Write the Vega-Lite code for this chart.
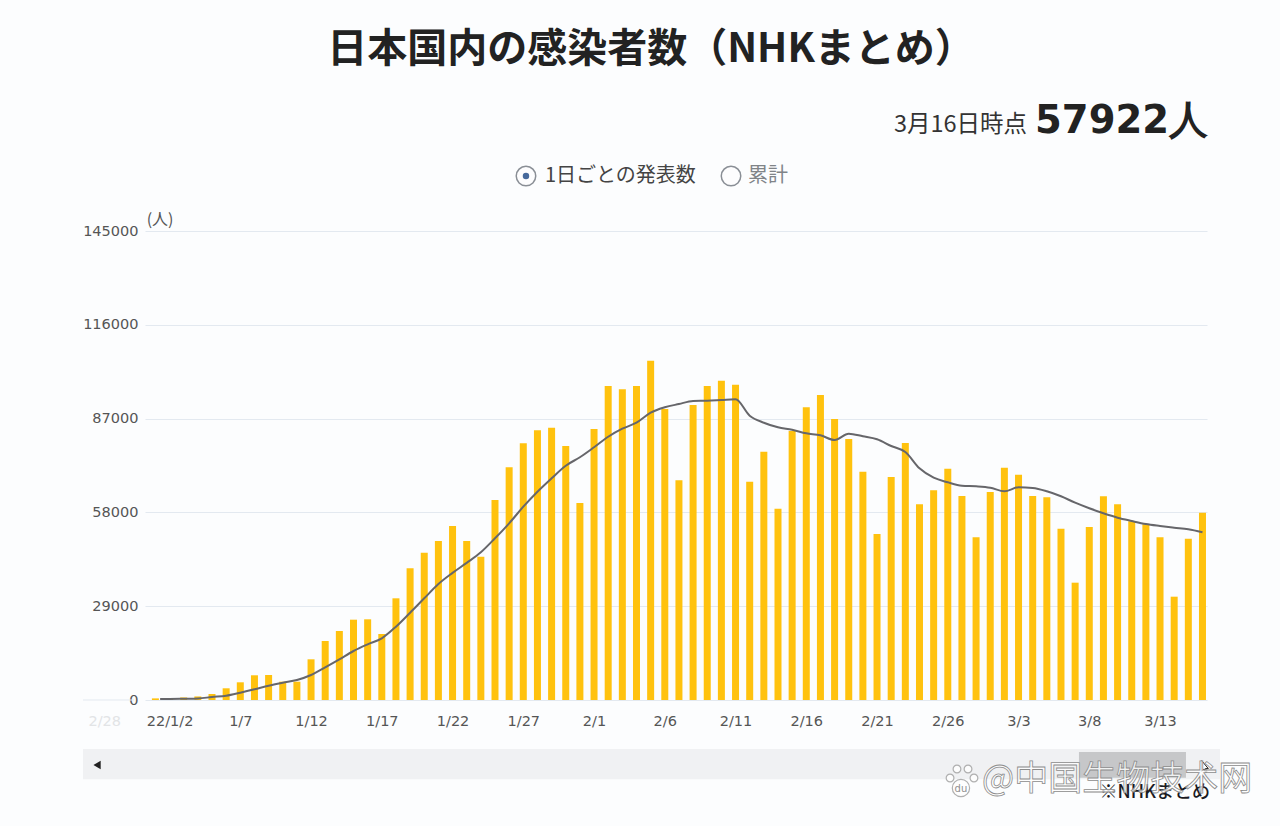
{"$schema":"https://vega.github.io/schema/vega-lite/v6.json","width":1062,"height":469,"autosize":{"type":"none"},"padding":{"left":145,"top":231,"right":73,"bottom":126},"background":"#fcfdfe","title":{"text":"日本国内の感染者数（NHKまとめ）","font":"Noto Sans CJK JP","fontSize":40,"fontWeight":"bold","color":"#222222","anchor":"middle","dx":-25,"offset":-8,"baseline":"bottom"},"config":{"view":{"stroke":null}},"datasets":{"daily":[{"date":"2022-01-01","value":500},{"date":"2022-01-02","value":550},{"date":"2022-01-03","value":780},{"date":"2022-01-04","value":1100},{"date":"2022-01-05","value":1860},{"date":"2022-01-06","value":3620},{"date":"2022-01-07","value":5470},{"date":"2022-01-08","value":7640},{"date":"2022-01-09","value":7730},{"date":"2022-01-10","value":5660},{"date":"2022-01-11","value":5660},{"date":"2022-01-12","value":12580},{"date":"2022-01-13","value":18240},{"date":"2022-01-14","value":21330},{"date":"2022-01-15","value":24830},{"date":"2022-01-16","value":24950},{"date":"2022-01-17","value":20410},{"date":"2022-01-18","value":31440},{"date":"2022-01-19","value":40720},{"date":"2022-01-20","value":45540},{"date":"2022-01-21","value":49160},{"date":"2022-01-22","value":53800},{"date":"2022-01-23","value":49160},{"date":"2022-01-24","value":44300},{"date":"2022-01-25","value":61830},{"date":"2022-01-26","value":71940},{"date":"2022-01-27","value":79360},{"date":"2022-01-28","value":83380},{"date":"2022-01-29","value":84190},{"date":"2022-01-30","value":78530},{"date":"2022-01-31","value":60910},{"date":"2022-02-01","value":83790},{"date":"2022-02-02","value":97080},{"date":"2022-02-03","value":96060},{"date":"2022-02-04","value":97080},{"date":"2022-02-05","value":104900},{"date":"2022-02-06","value":89970},{"date":"2022-02-07","value":67930},{"date":"2022-02-08","value":91210},{"date":"2022-02-09","value":97080},{"date":"2022-02-10","value":98720},{"date":"2022-02-11","value":97480},{"date":"2022-02-12","value":67490},{"date":"2022-02-13","value":76770},{"date":"2022-02-14","value":59140},{"date":"2022-02-15","value":83170},{"date":"2022-02-16","value":90490},{"date":"2022-02-17","value":94300},{"date":"2022-02-18","value":86880},{"date":"2022-02-19","value":80690},{"date":"2022-02-20","value":70580},{"date":"2022-02-21","value":51320},{"date":"2022-02-22","value":68950},{"date":"2022-02-23","value":79460},{"date":"2022-02-24","value":60510},{"date":"2022-02-25","value":64830},{"date":"2022-02-26","value":71510},{"date":"2022-02-27","value":63070},{"date":"2022-02-28","value":50300},{"date":"2022-03-01","value":64310},{"date":"2022-03-02","value":71820},{"date":"2022-03-03","value":69660},{"date":"2022-03-04","value":63070},{"date":"2022-03-05","value":62670},{"date":"2022-03-06","value":52960},{"date":"2022-03-07","value":36270},{"date":"2022-03-08","value":53490},{"date":"2022-03-09","value":62980},{"date":"2022-03-10","value":60510},{"date":"2022-03-11","value":55250},{"date":"2022-03-12","value":54320},{"date":"2022-03-13","value":50300},{"date":"2022-03-14","value":31940},{"date":"2022-03-15","value":49870},{"date":"2022-03-16","value":57922}],"average":[{"date":"2022-01-01T08:00:00Z","value":309},{"date":"2022-01-02","value":309},{"date":"2022-01-03","value":370},{"date":"2022-01-04","value":460},{"date":"2022-01-05","value":930},{"date":"2022-01-06","value":1330},{"date":"2022-01-07","value":2260},{"date":"2022-01-08","value":3300},{"date":"2022-01-09","value":4430},{"date":"2022-01-10","value":5350},{"date":"2022-01-11","value":6180},{"date":"2022-01-12","value":7730},{"date":"2022-01-13","value":10110},{"date":"2022-01-14","value":12580},{"date":"2022-01-15","value":15150},{"date":"2022-01-16","value":17220},{"date":"2022-01-17","value":19080},{"date":"2022-01-18","value":22670},{"date":"2022-01-19","value":26990},{"date":"2022-01-20","value":31440},{"date":"2022-01-21","value":35860},{"date":"2022-01-22","value":39300},{"date":"2022-01-23","value":42400},{"date":"2022-01-24","value":45660},{"date":"2022-01-25","value":49990},{"date":"2022-01-26","value":54630},{"date":"2022-01-27","value":59760},{"date":"2022-01-28","value":64400},{"date":"2022-01-29","value":68540},{"date":"2022-01-30","value":72440},{"date":"2022-01-31","value":75040},{"date":"2022-02-01","value":78130},{"date":"2022-02-02","value":81400},{"date":"2022-02-03","value":83880},{"date":"2022-02-04","value":85730},{"date":"2022-02-05","value":88820},{"date":"2022-02-06","value":90490},{"date":"2022-02-07","value":91510},{"date":"2022-02-08","value":92440},{"date":"2022-02-09","value":92530},{"date":"2022-02-10","value":92750},{"date":"2022-02-11","value":92970},{"date":"2022-02-12","value":87900},{"date":"2022-02-13","value":85730},{"date":"2022-02-14","value":84310},{"date":"2022-02-15","value":83540},{"date":"2022-02-16","value":82460},{"date":"2022-02-17","value":81840},{"date":"2022-02-18","value":80380},{"date":"2022-02-19","value":82330},{"date":"2022-02-20","value":81530},{"date":"2022-02-21","value":80600},{"date":"2022-02-22","value":78530},{"date":"2022-02-23","value":76670},{"date":"2022-02-24","value":71630},{"date":"2022-02-25","value":68730},{"date":"2022-02-26","value":67310},{"date":"2022-02-27","value":66250},{"date":"2022-02-28","value":66070},{"date":"2022-03-01","value":65640},{"date":"2022-03-02","value":64520},{"date":"2022-03-03","value":65760},{"date":"2022-03-04","value":65540},{"date":"2022-03-05","value":64520},{"date":"2022-03-06","value":62980},{"date":"2022-03-07","value":61000},{"date":"2022-03-08","value":59270},{"date":"2022-03-09","value":57720},{"date":"2022-03-10","value":56360},{"date":"2022-03-11","value":55340},{"date":"2022-03-12","value":54410},{"date":"2022-03-13","value":53800},{"date":"2022-03-14","value":53270},{"date":"2022-03-15","value":52780},{"date":"2022-03-16","value":51850}]},"encoding":{"x":{"field":"date","type":"temporal","title":null,"scale":{"type":"utc","padding":0,"domain":[{"year":2021,"month":12,"date":31,"hours":6,"minutes":21,"utc":true},{"year":2022,"month":3,"date":16,"hours":7,"minutes":40,"utc":true}]},"axis":{"grid":false,"domain":false,"ticks":false,"labelFont":"DejaVu Sans","labelFontSize":14.5,"labelColor":"#555555","labelPadding":14,"labelOverlap":false,"labelFlush":false,"values":[{"year":2022,"month":1,"date":2,"utc":true},{"year":2022,"month":1,"date":7,"utc":true},{"year":2022,"month":1,"date":12,"utc":true},{"year":2022,"month":1,"date":17,"utc":true},{"year":2022,"month":1,"date":22,"utc":true},{"year":2022,"month":1,"date":27,"utc":true},{"year":2022,"month":2,"date":1,"utc":true},{"year":2022,"month":2,"date":6,"utc":true},{"year":2022,"month":2,"date":11,"utc":true},{"year":2022,"month":2,"date":16,"utc":true},{"year":2022,"month":2,"date":21,"utc":true},{"year":2022,"month":2,"date":26,"utc":true},{"year":2022,"month":3,"date":3,"utc":true},{"year":2022,"month":3,"date":8,"utc":true},{"year":2022,"month":3,"date":13,"utc":true}],"labelExpr":"utcFormat(datum.value,'%-m/%-d')=='1/2'?'22/1/2':utcFormat(datum.value,'%-m/%-d')"}},"y":{"field":"value","type":"quantitative","title":null,"stack":null,"scale":{"domain":[0,145000],"nice":false},"axis":{"values":[0,29000,58000,87000,116000,145000],"format":"d","grid":true,"gridColor":"#e3e9f0","gridWidth":1,"domain":false,"ticks":false,"labelFont":"DejaVu Sans","labelFontSize":14.5,"labelColor":"#555555","labelPadding":7}}},"layer":[{"data":{"values":[{"date":"2021-12-26T21:11:00Z","date2":"2021-12-30T12:00:00Z","value":0}]},"mark":{"type":"rule","color":"#e3e9f0","strokeWidth":1},"encoding":{"x2":{"field":"date2"}}},{"data":{"name":"daily"},"mark":{"type":"bar","color":"#ffc20e","size":7,"orient":"vertical"}},{"data":{"name":"average"},"mark":{"type":"line","color":"#66666a","strokeWidth":2,"interpolate":"monotone"}},{"data":{"values":[{"date":"2022-01-01T08:00:00Z","value":148400,"label":"(人)"}]},"mark":{"type":"text","font":"Noto Sans CJK JP","fontSize":16,"color":"#555555","align":"center","baseline":"middle"},"encoding":{"text":{"field":"label"}}},{"data":{"values":[{"date":"2021-12-28T10:00:00Z","value":-6800,"label":"2/28"}]},"mark":{"type":"text","font":"DejaVu Sans","fontSize":14.5,"color":"#e2e4e6","align":"center","baseline":"middle"},"encoding":{"text":{"field":"label"}}},{"data":{"values":[{"date":"2022-03-03T14:24:00Z","value":177800,"label":"3月16日時点"}]},"mark":{"type":"text","font":"Noto Sans CJK JP","fontSize":23.5,"color":"#333333","align":"right","baseline":"middle"},"encoding":{"text":{"field":"label"}}},{"data":{"values":[{"date":"2022-03-16T09:22:00Z","value":179000,"label":"57922人"}]},"mark":{"type":"text","font":"DejaVu Sans","fontSize":38.5,"fontWeight":"bold","color":"#222222","align":"right","baseline":"middle"},"encoding":{"text":{"field":"label"}}},{"data":{"values":[{"date":"2022-01-27T04:34:00Z","value":162000},{"date":"2022-02-10T16:19:00Z","value":162000}]},"mark":{"type":"point","shape":"circle","filled":true,"fill":"#fdfdfe","stroke":"#8a8f96","strokeWidth":1.5,"size":380,"opacity":1}},{"data":{"values":[{"date":"2022-01-27T04:34:00Z","value":162000}]},"mark":{"type":"point","shape":"circle","filled":true,"color":"#47699c","size":42,"opacity":1}},{"data":{"values":[{"date":"2022-01-28T12:43:00Z","value":162000,"label":"1日ごとの発表数"}]},"mark":{"type":"text","font":"Noto Sans CJK JP","fontSize":20,"color":"#444444","align":"left","baseline":"middle"},"encoding":{"text":{"field":"label"}}},{"data":{"values":[{"date":"2022-02-11T21:07:00Z","value":162000,"label":"累計"}]},"mark":{"type":"text","font":"Noto Sans CJK JP","fontSize":20,"color":"#808488","align":"left","baseline":"middle"},"encoding":{"text":{"field":"label"}}},{"data":{"values":[{"date":"2021-12-26T21:11:00Z","date2":"2022-03-17T05:46:00Z","value":-15150,"value2":-24500}]},"mark":{"type":"rect","color":"#f0f1f3"},"encoding":{"x2":{"field":"date2"},"y2":{"field":"value2"}}},{"data":{"values":[{"date":"2022-03-07T06:30:00Z","date2":"2022-03-14T20:00:00Z","value":-16080,"value2":-24000}]},"mark":{"type":"rect","color":"#c6c7c9"},"encoding":{"x2":{"field":"date2"},"y2":{"field":"value2"}}},{"data":{"values":[{"date":"2021-12-27T21:00:00Z","value":-20100}]},"mark":{"type":"point","shape":"triangle-left","filled":true,"color":"#222222","size":70,"opacity":1}},{"data":{"values":[{"date":"2022-03-16T04:20:00Z","value":-20800}]},"mark":{"type":"point","shape":"M -0.5 -1 L -0.5 0.6 L -0.15 0.25 L 0.1 0.8 L 0.3 0.7 L 0.05 0.2 L 0.5 0.2 Z","filled":true,"fill":"#ffffff","stroke":"#222222","strokeWidth":1,"size":170,"opacity":1}},{"data":{"values":[{"date":"2022-03-16T12:43:00Z","value":-28750,"label":"※NHKまとめ"}]},"mark":{"type":"text","font":"Noto Sans CJK JP","fontSize":18,"fontWeight":500,"color":"#1a1a22","align":"right","baseline":"middle"},"encoding":{"text":{"field":"label"}}},{"data":{"values":[{"date":"2022-02-26T03:50:00Z","value":-24120},{"date":"2022-02-26T15:36:00Z","value":-21330},{"date":"2022-02-27T10:19:00Z","value":-21330},{"date":"2022-02-27T20:24:00Z","value":-24120}]},"mark":{"type":"point","shape":"circle","filled":true,"fill":"#ffffff","stroke":"#a8a8a8","strokeWidth":1.2,"size":60,"opacity":0.9}},{"data":{"values":[{"date":"2022-02-26T22:19:00Z","value":-27200}]},"mark":{"type":"point","shape":"circle","filled":true,"fill":"#ffffff","stroke":"#a8a8a8","strokeWidth":1.2,"size":300,"opacity":0.9}},{"data":{"values":[{"date":"2022-02-26T22:19:00Z","value":-27500,"label":"du"}]},"mark":{"type":"text","font":"DejaVu Sans","fontSize":10,"color":"#909090","align":"center","baseline":"middle"},"encoding":{"text":{"field":"label"}}},{"data":{"values":[{"date":"2022-02-28T10:00:00Z","value":-24730,"label":"@中国生物技术网"}]},"mark":{"type":"text","font":"Noto Sans CJK SC","fontSize":34,"fill":"#ffffff","fillOpacity":0.75,"stroke":"#8c8c8c","strokeWidth":0.8,"align":"left","baseline":"middle"},"encoding":{"text":{"field":"label"}}}]}
